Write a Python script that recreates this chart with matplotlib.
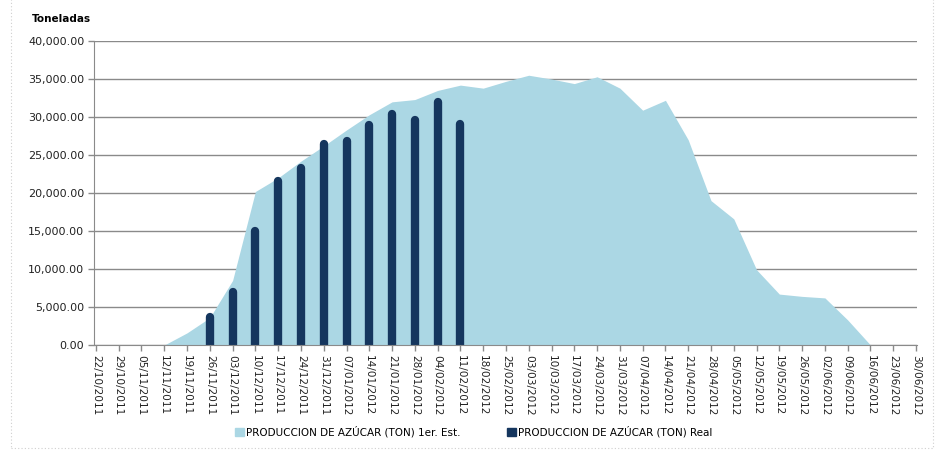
import datetime as dt
import matplotlib
matplotlib.use("Agg")
import matplotlib.pyplot as plt
import matplotlib.dates as mdates
from matplotlib.patches import Patch, Rectangle
from matplotlib.ticker import FuncFormatter, MultipleLocator

# weekly dates 22/10/2011 .. 30/06/2012
start = dt.datetime(2011, 10, 22)
fechas = [start + dt.timedelta(days=7 * i) for i in range(37)]

# 1er. Est. (area)
estimado = [0, 0, 0, 0, 1600, 3600, 8500, 20200, 22000, 24200, 26200, 28300,
            30300, 32000, 32300, 33500, 34200, 33800, 34700, 35500, 35000,
            34400, 35300, 33800, 30900, 32200, 27000, 19000, 16600, 9900,
            6700, 6400, 6200, 3300, 0, 0, 0]

# Real (bars), 26/11/2011 .. 11/02/2012
fechas_real = fechas[5:17]
real = [4200, 7500, 15500, 22100, 23900, 27000, 27400, 29500, 30900, 30100,
        32500, 29600]

c_area = "#abd7e4"
c_bar = "#15365e"
c_grid = "#8a8a8a"

fig = plt.figure(figsize=(9.38, 4.51), dpi=100)
ax = fig.add_axes([0.1002, 0.235, 0.8774, 0.674])

ax.fill_between(fechas, estimado, 0, color=c_area, lw=0, zorder=2)

# bars with rounded tops: vlines with round cap, cap length taken off the top
lw_pt = 6.0
ax.set_ylim(0, 40000)
ax_h_px = ax.get_position().height * fig.get_figheight() * fig.dpi
cap = (lw_pt / 2) * fig.dpi / 72 * 40000 / ax_h_px
lc = ax.vlines(fechas_real, 0, [v - cap for v in real], colors=c_bar, lw=lw_pt, zorder=3)
lc.set_capstyle("round")

ax.set_xlim(fechas[0] - dt.timedelta(days=0.6), fechas[-1] + dt.timedelta(days=0.3))
ax.set_xticks(fechas)
ax.xaxis.set_major_formatter(mdates.DateFormatter("%d/%m/%Y"))
plt.setp(ax.get_xticklabels(), rotation=-90, ha="center", va="top", fontsize=7.6, color="#222222")

ax.yaxis.set_major_locator(MultipleLocator(5000))
ax.yaxis.set_major_formatter(FuncFormatter(lambda v, p: f"{v:,.2f}"))
plt.setp(ax.get_yticklabels(), fontsize=8, color="#222222")

ax.grid(axis="y", color=c_grid, lw=1, zorder=1)
ax.set_axisbelow(True)
for s in ["top", "right"]:
    ax.spines[s].set_visible(False)
for s in ["left", "bottom"]:
    ax.spines[s].set_color(c_grid)
    ax.spines[s].set_zorder(4)
ax.tick_params(axis="both", color=c_grid, length=4, width=1, pad=3)

fig.text(0.034, 0.958, "Toneladas", fontsize=7.5, fontweight="bold", ha="left", va="center")

handles = [Patch(color=c_area, label="PRODUCCION DE AZÚCAR (TON) 1er. Est."),
           Patch(color=c_bar, label="PRODUCCION DE AZÚCAR (TON) Real")]
fig.legend(handles=handles, loc="center", bbox_to_anchor=(0.505, 0.043), ncol=2,
           frameon=False, fontsize=7.5, handlelength=0.8, handleheight=0.8,
           handletextpad=0.2, columnspacing=4.5)

# dotted chart-area border
fig.patches.append(Rectangle((11 / 938, 3 / 451), 922 / 938, 460 / 451, transform=fig.transFigure,
                             fill=False, ec="#cfcfcf", lw=0.8, ls=(0, (1, 2))))

fig.savefig("out.png", dpi=100)
